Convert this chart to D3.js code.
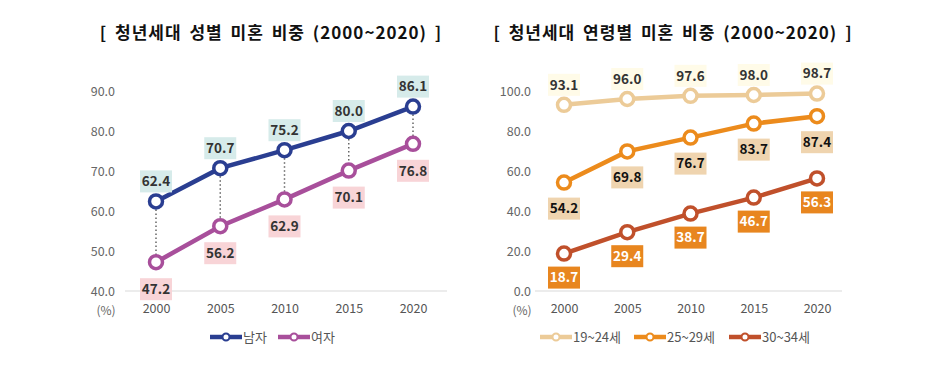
<!DOCTYPE html>
<html><head><meta charset="utf-8">
<script src="https://cdn.jsdelivr.net/npm/d3@7"></script>
<style>body{margin:0;background:#fff}svg{display:block;font-family:"Noto Sans CJK KR","Noto Sans",sans-serif}</style>
</head><body><svg id="c" width="932" height="365"></svg>
<script>
const years = ["2000","2005","2010","2015","2020"];
const male = [62.4,70.7,75.2,80.0,86.1];
const female = [47.2,56.2,62.9,70.1,76.8];
const age1924 = [93.1,96.0,97.6,98.0,98.7];
const age2529 = [54.2,69.8,76.7,83.7,87.4];
const age3034 = [18.7,29.4,38.7,46.7,56.3];
const leftTicks = [40,50,60,70,80,90];
const rightTicks = [0,20,40,60,80,100];
const leftTitle = "[ 청년세대 성별 미혼 비중 (2000~2020) ]";
const rightTitle = "[ 청년세대 연령별 미혼 비중 (2000~2020) ]";

const svg = d3.select("#c");

function panel(o){
  const g = svg.append("g");
  const x = d3.scalePoint().domain(years).range([o.x0,o.x1]);
  const y = d3.scaleLinear().domain(o.domain).range([291, o.yTop]);
  g.append("text").attr("x",o.tx).attr("y",39).attr("text-anchor","middle")
    .attr("font-size",17).attr("font-weight","bold").attr("letter-spacing",1).attr("word-spacing",3)
    .attr("fill","#111").text(o.title);
  g.append("line").attr("x1",o.bx0).attr("x2",o.bx1).attr("y1",y(o.domain[0])).attr("y2",y(o.domain[0]))
    .attr("stroke","#d9d9d9").attr("stroke-width",1);
  const ya = d3.axisLeft(y).tickValues(o.ticks).tickFormat(d3.format(".1f")).tickSize(0).tickPadding(0);
  const yg = g.append("g").attr("transform",`translate(${o.ax},0)`).call(ya);
  yg.select(".domain").remove();
  yg.selectAll("text").attr("font-size",12.5).attr("fill","#666").attr("font-family","'Noto Sans CJK KR',sans-serif");
  g.append("text").attr("x",o.ax-9).attr("y",315).attr("text-anchor","middle").attr("font-size",12).attr("fill","#666").text("(%)");
  const xa = d3.axisBottom(x).tickSize(0).tickPadding(0);
  const xg = g.append("g").attr("transform","translate(0,304)").call(xa);
  xg.select(".domain").remove();
  xg.selectAll("text").attr("font-size",12.5).attr("fill","#555").attr("font-family","'Noto Sans CJK KR',sans-serif");
  if(o.connect){
    g.selectAll(".dl").data(years).enter().append("line")
      .attr("x1",d=>x(d)).attr("x2",d=>x(d))
      .attr("y1",(d,i)=>y(o.series[0].v[i])).attr("y2",(d,i)=>y(o.series[1].v[i]))
      .attr("stroke","#666").attr("stroke-width",1.5).attr("stroke-dasharray","1.5,2.5");
  }
  const line = d3.line().x((d,i)=>x(years[i])).y(d=>y(d));
  o.series.forEach(s=>{
    g.append("path").attr("d",line(s.v)).attr("fill","none").attr("stroke",s.c).attr("stroke-width",4.5);
  });
  o.series.forEach(s=>{
    g.selectAll(null).data(s.v).enter().append("circle")
      .attr("cx",(d,i)=>x(years[i])).attr("cy",d=>y(d)).attr("r",6.5)
      .attr("fill","#fff").attr("stroke",s.c).attr("stroke-width",3.5);
  });
  o.series.forEach(s=>{
    const lg = g.selectAll(null).data(s.v).enter().append("g")
      .attr("transform",(d,i)=>`translate(${x(years[i])},${y(d)+s.off})`);
    lg.append("rect").attr("x",-16).attr("y",-11).attr("width",32).attr("height",22).attr("fill",s.bg);
    lg.append("text").attr("text-anchor","middle").attr("dy","0.36em").attr("font-size",13.5)
      .attr("font-weight","bold").attr("fill",s.tc).text(d=>d.toFixed(1));
  });
  const lgd = g.append("g");
  o.series.forEach((s,i)=>{
    const lx = o.legX[i];
    lgd.append("line").attr("x1",lx).attr("x2",lx+32).attr("y1",337).attr("y2",337).attr("stroke",s.c).attr("stroke-width",4.5);
    lgd.append("circle").attr("cx",lx+16).attr("cy",337).attr("r",3.5).attr("fill","#fff").attr("stroke",s.c).attr("stroke-width",2);
    lgd.append("text").attr("x",lx+33).attr("y",337).attr("dy","0.36em").attr("font-size",13).attr("fill","#555").text(s.name);
  });
}

panel({
  title:leftTitle, tx:271, x0:156, x1:413, bx0:125, bx1:447, ax:115, domain:[40,90], yTop:91, ticks:leftTicks, connect:true,
  legX:[210,278],
  series:[
    {name:"남자", v:male, c:"#2a3e91", off:-20, bg:"#d6ebea", tc:"#333"},
    {name:"여자", v:female, c:"#a84f9b", off:27, bg:"#f8d4d7", tc:"#333"}
  ]
});
panel({
  title:rightTitle, tx:673, x0:564, x1:817, bx0:535, bx1:842, ax:531, domain:[0,100], yTop:91, ticks:rightTicks, connect:false,
  legX:[540,634,729],
  series:[
    {name:"19~24세", v:age1924, c:"#eccb98", off:-20, bg:"#fffbe8", tc:"#333"},
    {name:"25~29세", v:age2529, c:"#ec8b1c", off:26, bg:"#efd4af", tc:"#111"},
    {name:"30~34세", v:age3034, c:"#c0502b", off:24, bg:"#e8861f", tc:"#fff"}
  ]
});
</script></body></html>
